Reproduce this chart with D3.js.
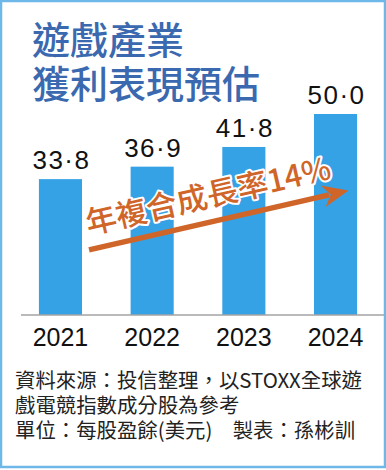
<!DOCTYPE html>
<html>
<head>
<meta charset="utf-8">
<script src="https://cdn.jsdelivr.net/npm/d3@7"></script>
<style>
  html, body { margin: 0; padding: 0; background: #fff; }
  svg { display: block; }
</style>
</head>
<body>
<div id="chart"></div>
<script>
// data
const years = ["2021", "2022", "2023", "2024"];
const eps = [33.8, 36.9, 41.8, 50.0];
const valueLabels = ["33·8", "36·9", "41·8", "50·0"];
const titleLines = ["遊戲產業", "獲利表現預估"];
const growthLabel = "年複合成長率14%";
const noteLines = [
  "資料來源：投信整理，以STOXX全球遊",
  "戲電競指數成分股為參考",
  "單位：每股盈餘(美元)　製表：孫彬訓"
];

const width = 386, height = 470;
const cjk = "'Noto Sans CJK TC', 'Noto Sans CJK SC', sans-serif";
const latin = "'Liberation Sans', Arial, sans-serif";

const svg = d3.select("#chart").append("svg")
  .attr("width", width)
  .attr("height", height);

// frame
svg.append("rect")
  .attr("x", 1).attr("y", 1)
  .attr("width", width - 2).attr("height", height - 4)
  .attr("fill", "#fff")
  .attr("stroke", "#6db8e8")
  .attr("stroke-width", 2.5);

// title
svg.append("g").selectAll("text")
  .data(titleLines)
  .join("text")
    .attr("x", 32)
    .attr("y", (d, i) => 54 + i * 44)
    .attr("fill", "#3b69b0")
    .style("font-family", cjk)
    .style("font-size", "38px")
    .style("font-weight", "500")
    .text(d => d);

// scales
const x = d3.scaleBand()
  .domain(years)
  .range([16, 380])
  .paddingInner(0.53)
  .paddingOuter(0.25);

const y = d3.scaleLinear()
  .domain([0, 50])
  .range([315, 114]);

const data = years.map((yr, i) => ({ year: yr, value: eps[i], label: valueLabels[i] }));

// bars
svg.selectAll("rect.bar")
  .data(data)
  .join("rect")
    .attr("class", "bar")
    .attr("x", d => x(d.year))
    .attr("y", d => y(d.value))
    .attr("width", x.bandwidth())
    .attr("height", d => y(0) - y(d.value))
    .attr("fill", "#36a2e6");

// value labels
svg.selectAll("text.val")
  .data(data)
  .join("text")
    .attr("class", "val")
    .attr("x", d => x(d.year) + x.bandwidth() / 2 + 1)
    .attr("y", d => y(d.value) - 10)
    .attr("text-anchor", "middle")
    .attr("fill", "#111")
    .style("font-family", latin)
    .style("font-size", "26px")
    .style("letter-spacing", "1.5px")
    .text(d => d.label);

// baseline
svg.append("line")
  .attr("x1", 21).attr("x2", width - 2)
  .attr("y1", y(0)).attr("y2", y(0))
  .attr("stroke", "#a3a3a3")
  .attr("stroke-width", 1.5);

// x axis labels
svg.append("g")
  .attr("transform", `translate(0,${y(0)})`)
  .call(d3.axisBottom(x).tickSize(0).tickPadding(31))
  .call(g => g.select(".domain").remove())
  .call(g => g.selectAll("text")
    .attr("fill", "#111")
    .attr("dy", 0)
    .style("font-family", latin)
    .style("font-size", "25px"));

// growth arrow
const ax0 = x("2021") + x.bandwidth() + 7, ay0 = y(16.2);
const ax1 = x("2024") + x.bandwidth() * 0.8, ay1 = y(31);
const ang = Math.atan2(ay1 - ay0, ax1 - ax0);
const headLen = 26, headW = 11;
const bx = ax1 - headLen * Math.cos(ang), by = ay1 - headLen * Math.sin(ang);
const nx = -Math.sin(ang), ny = Math.cos(ang);
const arrowColor = "#d0652a";

svg.append("line")
  .attr("x1", ax0).attr("y1", ay0)
  .attr("x2", bx + 6 * Math.cos(ang)).attr("y2", by + 6 * Math.sin(ang))
  .attr("stroke", arrowColor)
  .attr("stroke-width", 5.5);

svg.append("path")
  .attr("d", d3.line()([
    [ax1, ay1],
    [bx + nx * headW, by + ny * headW],
    [bx + 8 * Math.cos(ang), by + 8 * Math.sin(ang)],
    [bx - nx * headW, by - ny * headW]
  ]) + "Z")
  .attr("fill", arrowColor);

// growth label along the arrow
const tOff = -15, tAlong = 3;
svg.append("text")
  .attr("transform", `translate(${ax0 + tAlong * Math.cos(ang) + nx * tOff},${ay0 + tAlong * Math.sin(ang) + ny * tOff}) rotate(${ang * 180 / Math.PI})`)
  .attr("fill", arrowColor)
  .attr("stroke", "#fff")
  .attr("stroke-width", 4)
  .attr("stroke-linejoin", "round")
  .attr("paint-order", "stroke")
  .style("font-family", cjk)
  .style("font-size", "31px")
  .style("font-weight", "500")
  .text(growthLabel);

// notes
svg.append("g").selectAll("text")
  .data(noteLines)
  .join("text")
    .attr("x", 15)
    .attr("y", (d, i) => 388 + i * 25)
    .attr("fill", "#222")
    .style("font-family", cjk)
    .style("font-size", "20.4px")
    .text(d => d);
</script>
</body>
</html>
